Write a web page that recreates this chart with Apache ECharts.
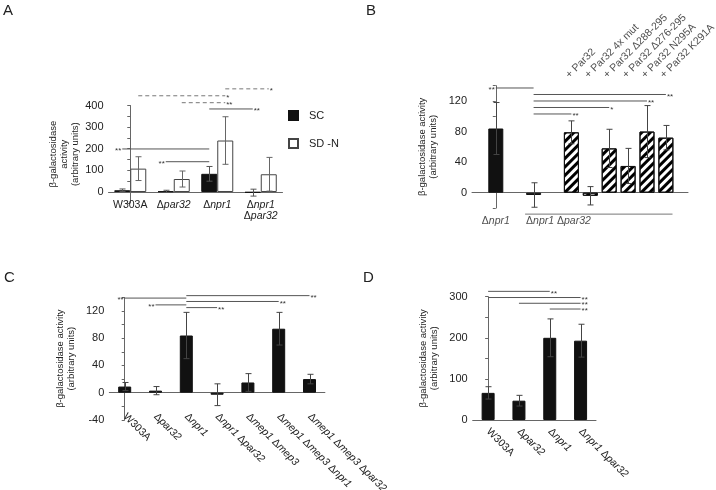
<!DOCTYPE html>
<html><head><meta charset="utf-8">
<script src="https://cdn.jsdelivr.net/npm/echarts@6/dist/echarts.min.js"></script>
<style>html,body{margin:0;padding:0;background:#fff}#c{width:716px;height:490px}</style>
</head><body><div id="c"></div>
<script>
// ---------------- DATA ----------------
// Panel A
const aCategories = ['W303A', 'Δpar32', 'Δnpr1', 'Δnpr1\nΔpar32'];
const aSeriesNames = ['SC', 'SD -N'];
const aSC = [8, 3, 84, -3];
const aSCErr = [6, 5, 34, 16];
const aSDN = [108, 60, 238, 82];
const aSDNErr = [55, 37, 110, 78];
// significance: [fromGroup, fromSeries, toGroup, toSeries, level, mark, side, dashed]
const aSig = [
  [0, 0, 2, 0, 199, '**', 'left', false],
  [1, 0, 2, 0, 140, '**', 'left', false],
  [2, 0, 3, 0, 384, '**', 'right', false],
  [1, 1, 2, 1, 413, '**', 'right', true],
  [0, 1, 2, 1, 445, '*', 'right', true],
  [2, 1, 3, 1, 477, '*', 'right', true]
];
// Panel B
const bNames = ['Δnpr1', 'Δnpr1 Δpar32', '+ Par32', '+ Par32 4x mut', '+ Par32 Δ288-295', '+ Par32 Δ276-295', '+ Par32 N295A', '+ Par32 K291A'];
const bSlots = [0, 2, 4, 5, 6, 7, 8, 9];
const bValues = [84, -3, 79, -4, 58, 35, 80, 72];
const bErr = [34, 16, 15, 12, 25, 23, 34, 16];
const bHatched = [false, false, true, true, true, true, true, true];
const bSig = [
  [0, 2, 137, '**', 'left'],
  [2, 9, 128.5, '**', 'right'],
  [2, 8, 120, '**', 'right'],
  [2, 6, 111.5, '*', 'right'],
  [2, 4, 103, '**', 'right']
];
const bGroupNames = ['Δnpr1', 'Δnpr1 Δpar32'];
// Panel C
const cCategories = ['W303A', 'Δpar32', 'Δnpr1', 'Δnpr1 Δpar32', 'Δmep1 Δmep3', 'Δmep1 Δmep3 Δnpr1', 'Δmep1 Δmep3 Δpar32'];
const cValues = [9, 3, 84, -3, 15, 94, 20];
const cErr = [6, 6, 34, 16, 13, 24, 7];
const cSig = [
  [0, 2, 139, '**', 'left'],
  [2, 6, 142.6, '**', 'right'],
  [1, 2, 129, '**', 'left'],
  [2, 5, 134, '**', 'right'],
  [2, 3, 125, '**', 'right']
];
// Panel D
const dCategories = ['W303A', 'Δpar32', 'Δnpr1', 'Δnpr1 Δpar32'];
const dValues = [66, 47, 200, 193];
const dErr = [15, 13, 46, 40];
const dSig = [
  [0, 2, 313, '**', 'right'],
  [0, 3, 298, '**', 'right'],
  [1, 3, 284, '**', 'right'],
  [2, 3, 270, '**', 'right']
];

// ---------------- LAYOUT / STYLE ----------------
const FONT = "'Liberation Sans', Arial, sans-serif";
const AXIS_COLOR = '#666';
const TEXT_COLOR = '#222';
const G = {
  A: {left: 108.5, top: 105.5, width: 174, height: 97.3},
  B: {left: 472, top: 85.7, width: 216, height: 122.3},
  C: {left: 109.3, top: 297.4, width: 215.6, height: 122.5},
  D: {left: 472.7, top: 296.7, width: 123.3, height: 123.3}
};
const BAR_A = 16, BAR_B = 15, BAR_C = 13, BAR_D = 13;
const B_XMIN = -1.26, B_XMAX = 10.17;
const B_TOPLABEL_LEVEL = 147;
const B_GROUPLINE_LEVEL = -28, B_GROUPLINE_FROM = 1.55, B_GROUPLINE_TO = 9.35;
const B_GROUPLABEL_LEVEL = -37, B_GROUPLABEL_X = [0, 1.6];

const rich = {
  u: {fontSize: 10.5, fontFamily: FONT, color: TEXT_COLOR, fontStyle: 'normal'},
  i: {fontSize: 10.5, fontFamily: FONT, color: TEXT_COLOR, fontStyle: 'italic'}
};
function fmt(name) {
  return name.split('\n').map(line => line.split(' ').map(tok =>
    tok.startsWith('Δ') ? '{u|Δ}{i|' + tok.slice(1) + '}' : '{u|' + tok + '}'
  ).join('{u| }')).join('\n');
}

function yAxis(gi, min, max, interval, labelStep, name, nameGap) {
  return {
    gridIndex: gi, type: 'value', min, max, interval,
    name, nameLocation: 'middle', nameRotate: 90, nameGap,
    nameTextStyle: {fontSize: 9.5, color: TEXT_COLOR, lineHeight: 11, fontFamily: FONT},
    axisLine: {show: true, lineStyle: {color: AXIS_COLOR, width: 1}},
    axisTick: {show: true, length: 3, lineStyle: {color: AXIS_COLOR}},
    axisLabel: {fontSize: 11, color: TEXT_COLOR, margin: 5, fontFamily: FONT,
      formatter: v => (v % labelStep === 0 && v >= 0) ? String(v) : ''},
    splitLine: {show: false}
  };
}
function catAxis(gi, data, rotate, margin) {
  return {
    gridIndex: gi, type: 'category', data,
    axisLine: {show: true, onZero: true, lineStyle: {color: AXIS_COLOR}},
    axisTick: {show: false},
    axisLabel: {rotate, margin, interval: 0, formatter: fmt, rich, fontSize: 10.5, hideOverlap: false},
    splitLine: {show: false}
  };
}
function hiddenValAxis(gi, min, max) {
  return {gridIndex: gi, type: 'value', min, max, show: false, splitLine: {show: false}};
}

function errorSeries(xi, yi, data, pxOffset, color, capHalf) {
  return {
    type: 'custom', xAxisIndex: xi, yAxisIndex: yi, data, z: 5, silent: true, clip: false,
    renderItem(params, api) {
      const x = api.value(0), v = api.value(1), e = api.value(2);
      const p1 = api.coord([x, v + e]), p2 = api.coord([x, v - e]);
      const cx = Math.round(p1[0] + pxOffset) + 0.5;
      const st = {stroke: color, lineWidth: 1};
      return {type: 'group', children: [
        {type: 'line', shape: {x1: cx, y1: p1[1], x2: cx, y2: p2[1]}, style: st},
        {type: 'line', shape: {x1: cx - capHalf, y1: p1[1], x2: cx + capHalf, y2: p1[1]}, style: st},
        {type: 'line', shape: {x1: cx - capHalf, y1: p2[1], x2: cx + capHalf, y2: p2[1]}, style: st}
      ]};
    }
  };
}
function sigSeries(xi, yi, x1, x2, level, mark, side, dashed, color) {
  const lab = {show: true, formatter: mark, position: side, distance: 1, fontSize: 8,
    color: '#333', fontFamily: FONT, offset: [0, 2]};
  return {
    type: 'line', xAxisIndex: xi, yAxisIndex: yi, clip: false, silent: true,
    symbol: 'circle', symbolSize: 0.01, z: 6,
    lineStyle: {color, width: 1, type: dashed ? [4, 3] : 'solid'},
    itemStyle: {color},
    data: [
      {value: [x1, level], label: side === 'left' ? lab : {show: false}},
      {value: [x2, level], label: side === 'right' ? lab : {show: false}}
    ]
  };
}

const series = [];
// ---- Panel A ----
const aOffUnits = (BAR_A / 2) / (G.A.width / aCategories.length);
series.push({type: 'bar', name: aSeriesNames[0], xAxisIndex: 0, yAxisIndex: 0, data: aSC,
  barWidth: BAR_A, barGap: '0%', itemStyle: {color: '#111', borderColor: '#111', borderWidth: 1}});
series.push({type: 'bar', name: aSeriesNames[1], xAxisIndex: 0, yAxisIndex: 0, data: aSDN,
  barWidth: BAR_A, barGap: '0%', itemStyle: {color: '#fff', borderColor: '#444', borderWidth: 1}});
series.push(errorSeries(0, 0, aSC.map((v, i) => [i, v, aSCErr[i]]), -BAR_A / 2, '#555', 3));
series.push(errorSeries(0, 0, aSDN.map((v, i) => [i, v, aSDNErr[i]]), BAR_A / 2, '#666', 3));
aSig.forEach(s => {
  const x1 = s[0] + (s[1] === 0 ? -aOffUnits : aOffUnits);
  const x2 = s[2] + (s[3] === 0 ? -aOffUnits : aOffUnits);
  series.push(sigSeries(1, 0, x1, x2, s[4], s[5], s[6], s[7], s[7] ? '#777' : '#555'));
});
// ---- Panel B ----
series.push({type: 'bar', xAxisIndex: 2, yAxisIndex: 1, barWidth: BAR_B,
  data: bValues.map((v, i) => ({
    value: [bSlots[i], v],
    itemStyle: bHatched[i]
      ? {color: '#fff', borderColor: '#111', borderWidth: 1,
         decal: {symbol: 'rect', symbolSize: 1, dashArrayX: [1, 0], dashArrayY: [3, 2.5],
                 rotation: -Math.PI / 4, color: '#000'}}
      : {color: '#111', borderColor: '#111', borderWidth: 1}
  }))});
series.push(errorSeries(2, 1, bValues.map((v, i) => [bSlots[i], v, bErr[i]]), 0, '#444', 3));
bSig.forEach(s => series.push(sigSeries(2, 1, s[0], s[1], s[2], s[3], s[4], false, '#555')));
series.push({type: 'scatter', xAxisIndex: 2, yAxisIndex: 1, clip: false, silent: true,
  symbolSize: 0.01, itemStyle: {color: 'transparent'},
  data: bNames.slice(2).map((n, i) => ({name: n, value: [bSlots[i + 2], B_TOPLABEL_LEVEL]})),
  label: {show: true, position: 'right', distance: 0, rotate: 45, formatter: '{b}',
    fontSize: 10.5, color: TEXT_COLOR, fontFamily: FONT, align: 'left', verticalAlign: 'bottom'}});
series.push({type: 'line', xAxisIndex: 2, yAxisIndex: 1, clip: false, silent: true,
  symbol: 'none', lineStyle: {color: '#777', width: 1},
  data: [[B_GROUPLINE_FROM, B_GROUPLINE_LEVEL], [B_GROUPLINE_TO, B_GROUPLINE_LEVEL]]});
series.push({type: 'scatter', xAxisIndex: 2, yAxisIndex: 1, clip: false, silent: true,
  symbolSize: 0.01, itemStyle: {color: 'transparent'},
  data: bGroupNames.map((n, i) => ({name: n, value: [B_GROUPLABEL_X[i], B_GROUPLABEL_LEVEL],
    label: {show: true, position: i === 0 ? 'inside' : 'right', distance: 0,
      formatter: p => fmt(p.name), rich}}))});
// ---- Panel C ----
series.push({type: 'bar', xAxisIndex: 3, yAxisIndex: 2, data: cValues, barWidth: BAR_C,
  itemStyle: {color: '#111', borderColor: '#111', borderWidth: 1}});
series.push(errorSeries(3, 2, cValues.map((v, i) => [i, v, cErr[i]]), 0, '#444', 3));
cSig.forEach(s => series.push(sigSeries(4, 2, s[0], s[1], s[2], s[3], s[4], false, '#555')));
// ---- Panel D ----
series.push({type: 'bar', xAxisIndex: 5, yAxisIndex: 3, data: dValues, barWidth: BAR_D,
  itemStyle: {color: '#111', borderColor: '#111', borderWidth: 1}});
series.push(errorSeries(5, 3, dValues.map((v, i) => [i, v, dErr[i]]), 0, '#444', 3));
dSig.forEach(s => series.push(sigSeries(6, 3, s[0], s[1], s[2], s[3], s[4], false, '#555')));

const titleStyle = {fontSize: 15, fontWeight: 'normal', color: TEXT_COLOR, fontFamily: FONT};
const gridBase = {containLabel: false, outerBoundsMode: 'none'};
const option = {
  animation: false,
  textStyle: {fontFamily: FONT},
  title: [
    {text: 'A', left: 3, top: 3, padding: 0, textStyle: titleStyle},
    {text: 'B', left: 366, top: 3, padding: 0, textStyle: titleStyle},
    {text: 'C', left: 4, top: 270, padding: 0, textStyle: titleStyle},
    {text: 'D', left: 363, top: 270, padding: 0, textStyle: titleStyle}
  ],
  legend: {data: aSeriesNames, orient: 'vertical', left: 288, top: 110, padding: 0,
    itemWidth: 9, itemHeight: 9, itemGap: 17, selectedMode: false, icon: 'rect',
    textStyle: {fontSize: 11, color: TEXT_COLOR, fontFamily: FONT, padding: [0, 0, 0, 6]}},
  grid: [
    Object.assign({}, gridBase, G.A),
    Object.assign({}, gridBase, G.B),
    Object.assign({}, gridBase, G.C),
    Object.assign({}, gridBase, G.D)
  ],
  xAxis: [
    catAxis(0, aCategories, 0, -3),
    hiddenValAxis(0, -0.5, aCategories.length - 0.5),
    {gridIndex: 1, type: 'value', min: B_XMIN, max: B_XMAX,
      axisLine: {show: true, onZero: true, lineStyle: {color: AXIS_COLOR}},
      axisTick: {show: false}, axisLabel: {show: false}, splitLine: {show: false}},
    catAxis(2, cCategories, -45, -5),
    hiddenValAxis(2, -0.5, cCategories.length - 0.5),
    catAxis(3, dCategories, -45, 10),
    hiddenValAxis(3, -0.5, dCategories.length - 0.5)
  ],
  yAxis: [
    yAxis(0, -50, 400, 50, 100, 'β-galactosidase\nactivity\n(arbitrary units)', 28),
    yAxis(1, -20, 140, 20, 40, 'β-galactosidase activity\n(arbitrary units)', 33),
    yAxis(2, -40, 140, 20, 40, 'β-galactosidase activity\n(arbitrary units)', 32),
    yAxis(3, 0, 300, 50, 100, 'β-galactosidase activity\n(arbitrary units)', 33)
  ],
  series
};
// C axis shows -40 label too
option.yAxis[2].axisLabel.formatter = v => (v % 40 === 0) ? String(v) : '';
echarts.init(document.getElementById('c'), null, {renderer: 'canvas'}).setOption(option);
</script>
</body></html>
